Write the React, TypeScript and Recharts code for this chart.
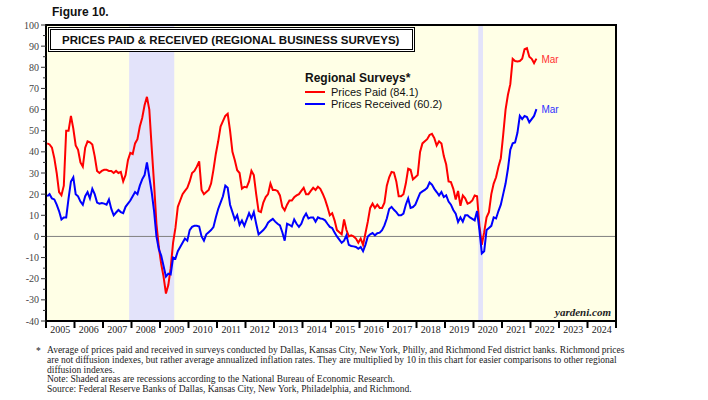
import { ComposedChart, Line, XAxis, YAxis, ReferenceArea, ReferenceLine, Legend } from 'recharts';

const years = [2005, 2006, 2007, 2008, 2009, 2010, 2011, 2012, 2013, 2014, 2015, 2016, 2017, 2018, 2019, 2020, 2021, 2022, 2023, 2024];

// monthly, Jan 2005 .. Mar 2022
const pricesPaid = [
    44, 43.5, 42, 37, 30, 21, 19.5, 24, 50, 50, 57, 51,
    43, 41, 35, 33, 42, 45, 44.5, 43.5, 38, 31, 30, 31,
    31.5, 31.5, 31, 31, 30, 31, 30, 30.5, 26, 29, 36, 39.5,
    39, 44, 46, 52, 56, 62, 66, 60, 42, 25, 6, -5,
    -13, -19, -27, -23, -15, -3, 4, 14, 17, 20, 21.5, 23,
    26, 30, 31, 33, 35.5, 22, 20, 21, 22, 25, 31.5, 39,
    45, 52, 54.5, 57, 58, 50, 40, 36, 31.3, 30, 22.6, 23.5,
    23.2, 26, 31, 29, 20, 12, 11.5, 16, 18.6, 20, 25, 22,
    22, 21.5, 19.4, 14, 12.3, 15, 17, 17, 18.5, 19.4, 20, 21.5,
    23, 20, 20, 21.5, 23, 22, 23.5, 22.5, 20.2, 17.5, 14, 10,
    11, 7.6, 3, 2, 1, 8, 3, 0, 0.5, 0, -1, -3,
    -1, -4, 1.5, 7, 13.5, 15.5, 13.5, 15, 13.5, 13.5, 16, 24,
    28, 30.5, 30.2, 26, 19, 19, 20, 25, 32, 31.5, 27, 28,
    29, 40, 44, 45, 46, 48, 48.5, 46.5, 43, 45, 44, 38,
    34, 26, 25.7, 22.5, 17.5, 21.5, 14.5, 19.4, 18, 15.5, 16, 17,
    19.4, 19, 5, -4, 2, 9, 11.5, 20, 25, 28, 33, 37,
    48, 60, 67, 72, 84, 83, 82.8, 83, 84, 88.5, 89, 85,
    84, 82, 84.1,
];

const pricesReceived = [
    19, 20, 18, 17.5, 15, 12, 8, 9, 9, 18, 26, 28,
    20, 19, 16.5, 15, 19, 21, 18, 22.5, 20, 16, 15.5, 15.8,
    15.5, 15, 17.5, 13, 10, 11.3, 12.5, 11.5, 11, 14, 15.5, 17,
    19, 21, 20, 24, 27, 29, 35, 28, 21, 12, 0, -6,
    -9, -14, -19, -17.6, -18, -10, -10.5, -7, -5, -3, -1, -2,
    3, 4.5, 5, 5, 4.7, 0, -2, 1, 2, 3, 4.4, 9,
    13, 16, 19, 24, 23, 15, 11.5, 8, 10, 5.5, 7.5, 5,
    8, 11, 8.5, 11.5, 6, 1, 2, 3, 4.4, 6.5, 7.5, 8.3,
    7, 6, 5.2, 2, -2, 6, 5.5, 4.7, 8, 6, 4.5, 6,
    9, 10.8, 8.5, 9, 9, 7, 9, 8.5, 8.3, 7.6, 6, 4.5,
    4, 1.8, 0, -1.5, -3, -2, 0.5, -4, -4.5, -4.7, -5, -5.8,
    -5, -7, -4, 0, 1, 1.6, 0.5, 1.5, 1.8, 3, 5.2, 8.5,
    13, 14, 12.6, 11.5, 10, 10, 10.8, 15, 18, 13.5, 13.9, 15,
    17.8, 20.5, 21.3, 22, 23, 25.5, 24.5, 22.5, 21, 19.4, 21, 18.6,
    19.4, 16.5, 15, 12.5, 10.8, 6.8, 9, 7, 10, 10, 9, 8.3,
    7.6, 12, 3, -8, -7, 3, 4, 5, 9, 8.5, 12, 15,
    20, 25, 32, 41, 44, 44.4, 49, 57, 55.5, 57, 56.5, 54,
    55.5, 57, 60.2,
];

// NBER recessions, in months from Jan 2005
const recessions = [
    { from: 35, to: 54 },
    { from: 182, to: 184 },
];

const yTicks = [-40, -35, -30, -25, -20, -15, -10, -5, 0, 5, 10, 15, 20, 25, 30, 35, 40, 45, 50, 55, 60, 65, 70, 75, 80, 85, 90, 95, 100];
const lastMonthLabel = 'Mar';

const footnotes = [
    'Average of prices paid and received in surveys conducted by Dallas, Kansas City, New York, Philly, and Richmond Fed district banks. Richmond prices',
    'are not diffusion indexes, but rather average annualized inflation rates. They are multiplied by 10 in this chart for easier comparisons to other regional',
    'diffusion indexes.',
    'Note: Shaded areas are recessions according to the National Bureau of Economic Research.',
    'Source: Federal Reserve Banks of Dallas, Kansas City, New York, Philadelphia, and Richmond.',
];

const SANS = '"Liberation Sans", Arial, sans-serif';
const SERIF = '"Liberation Serif", "Times New Roman", serif';

const data = pricesPaid.map((v, i) => ({ month: i + 0.5, paid: v, received: pricesReceived[i] }));
const xTicks = years.flatMap((_, k) => [k * 12, k * 12 + 6]).concat(years.length * 12);
const last = data.length - 1;

function YearTick({ x, y, payload }: any) {
    const v = payload.value;
    if (v % 12 === 0) {
        return <line x1={x} x2={x} y1={y} y2={y + 7} stroke="#000" strokeWidth={2} />;
    }
    return (
        <text x={x} y={y + 11.5} textAnchor="middle" style={{ fontFamily: SERIF, fontSize: 10 }} fill="#222">
            {years[Math.floor(v / 12)]}
        </text>
    );
}

function ValueTick({ x, y, payload, side }: any) {
    const v = payload.value;
    const major = v % 10 === 0;
    const dir = side === 'left' ? -1 : 1;
    return (
        <g>
            <line x1={x} x2={x + dir * (major ? 5 : 3)} y1={y} y2={y} stroke="#333" strokeWidth={1} />
            {major && (
                <text x={x + dir * 7} y={y + 3.5} textAnchor={side === 'left' ? 'end' : 'start'} style={{ fontFamily: SERIF, fontSize: 10 }} fill="#444">
                    {v}
                </text>
            )}
        </g>
    );
}

function endLabel(color: string) {
    return (props: any) => {
        if (props.index !== last) return <g />;
        return (
            <text x={props.x + 5} y={props.y + 4} style={{ fontFamily: SANS, fontSize: 10 }} fill={color}>
                {lastMonthLabel}
            </text>
        );
    };
}

function SurveyLegend({ payload }: any) {
    return (
        <div style={{ fontFamily: SANS, color: '#111', lineHeight: '12px' }}>
            <div style={{ fontWeight: 'bold', fontSize: 12, marginBottom: 2 }}>Regional Surveys*</div>
            {(payload || []).map((e: any) => (
                <div key={e.value} style={{ display: 'flex', alignItems: 'center', fontSize: 11, height: 12 }}>
                    <span style={{ display: 'inline-block', width: 20, height: 2, background: e.color, marginRight: 6 }} />
                    {e.value}
                </div>
            ))}
        </div>
    );
}

export default function App() {
    return (
        <div style={{ position: 'absolute', left: 0, top: 0, width: 708, height: 400, background: '#fff', fontFamily: SANS }}>
            <div style={{ position: 'absolute', left: 52, top: 5, fontSize: 12, fontWeight: 'bold', color: '#111' }}>Figure 10.</div>
            <ComposedChart width={708} height={400} data={data} margin={{ top: 25, right: 60, bottom: 0, left: 0 }}>
                <XAxis
                    dataKey="month"
                    type="number"
                    domain={[0, years.length * 12]}
                    ticks={xTicks}
                    interval={0}
                    tick={<YearTick />}
                    tickLine={false}
                    tickSize={0}
                    tickMargin={0}
                    axisLine={{ stroke: '#000', strokeWidth: 2 }}
                    height={79}
                />
                <YAxis
                    yAxisId="left"
                    domain={[-40, 100]}
                    ticks={yTicks}
                    interval={0}
                    tick={<ValueTick side="left" />}
                    tickLine={false}
                    tickSize={0}
                    tickMargin={0}
                    axisLine={{ stroke: '#000', strokeWidth: 2 }}
                    width={46}
                />
                <YAxis
                    yAxisId="right"
                    orientation="right"
                    domain={[-40, 100]}
                    ticks={yTicks}
                    interval={0}
                    tick={<ValueTick side="right" />}
                    tickLine={false}
                    tickSize={0}
                    tickMargin={0}
                    axisLine={{ stroke: '#000', strokeWidth: 2 }}
                    width={32}
                />
                <ReferenceArea yAxisId="left" x1={0} x2={years.length * 12} y1={-40} y2={100} fill="#FFFFE6" fillOpacity={1} stroke="none" />
                {recessions.map((r) => (
                    <ReferenceArea key={r.from} yAxisId="left" x1={r.from} x2={r.to} y1={-40} y2={100} fill="#E3E3FA" fillOpacity={1} stroke="none" />
                ))}
                <ReferenceLine yAxisId="left" y={0} stroke="#808080" strokeWidth={1} />
                <ReferenceArea yAxisId="left" x1={0} x2={years.length * 12} y1={-40} y2={100} fill="none" stroke="#000" strokeWidth={2} />
                <Legend layout="vertical" align="center" verticalAlign="middle" content={<SurveyLegend />} wrapperStyle={{ left: 305, top: 72, width: 200 }} />
                <Line
                    yAxisId="left"
                    type="linear"
                    dataKey="paid"
                    name={`Prices Paid (${pricesPaid[last]})`}
                    stroke="#FF0000"
                    strokeWidth={2}
                    dot={false}
                    isAnimationActive={false}
                    label={endLabel('#FF3030')}
                />
                <Line
                    yAxisId="left"
                    type="linear"
                    dataKey="received"
                    name={`Prices Received (${pricesReceived[last]})`}
                    stroke="#0000FF"
                    strokeWidth={2}
                    dot={false}
                    isAnimationActive={false}
                    label={endLabel('#3030FF')}
                />
            </ComposedChart>
            <div
                style={{
                    position: 'absolute', left: 48, top: 27, width: 367, height: 25, boxSizing: 'border-box',
                    border: '3px double #000', background: '#fff', display: 'flex', alignItems: 'center',
                    paddingLeft: 11, fontSize: 11.5, fontWeight: 'bold', color: '#111', whiteSpace: 'nowrap',
                }}
            >
                PRICES PAID &amp; RECEIVED (REGIONAL BUSINESS SURVEYS)
            </div>
            <div style={{ position: 'absolute', right: 97, top: 306, fontFamily: SERIF, fontStyle: 'italic', fontWeight: 'bold', fontSize: 11, color: '#222' }}>
                yardeni.com
            </div>
            <div style={{ position: 'absolute', left: 36, top: 346, fontFamily: SERIF, fontSize: 9.5, color: '#222' }}>*</div>
            <div style={{ position: 'absolute', left: 47, top: 346, fontFamily: SERIF, fontSize: 9.5, lineHeight: '9.8px', color: '#222', whiteSpace: 'nowrap' }}>
                {footnotes.map((t) => (
                    <div key={t}>{t}</div>
                ))}
            </div>
        </div>
    );
}
